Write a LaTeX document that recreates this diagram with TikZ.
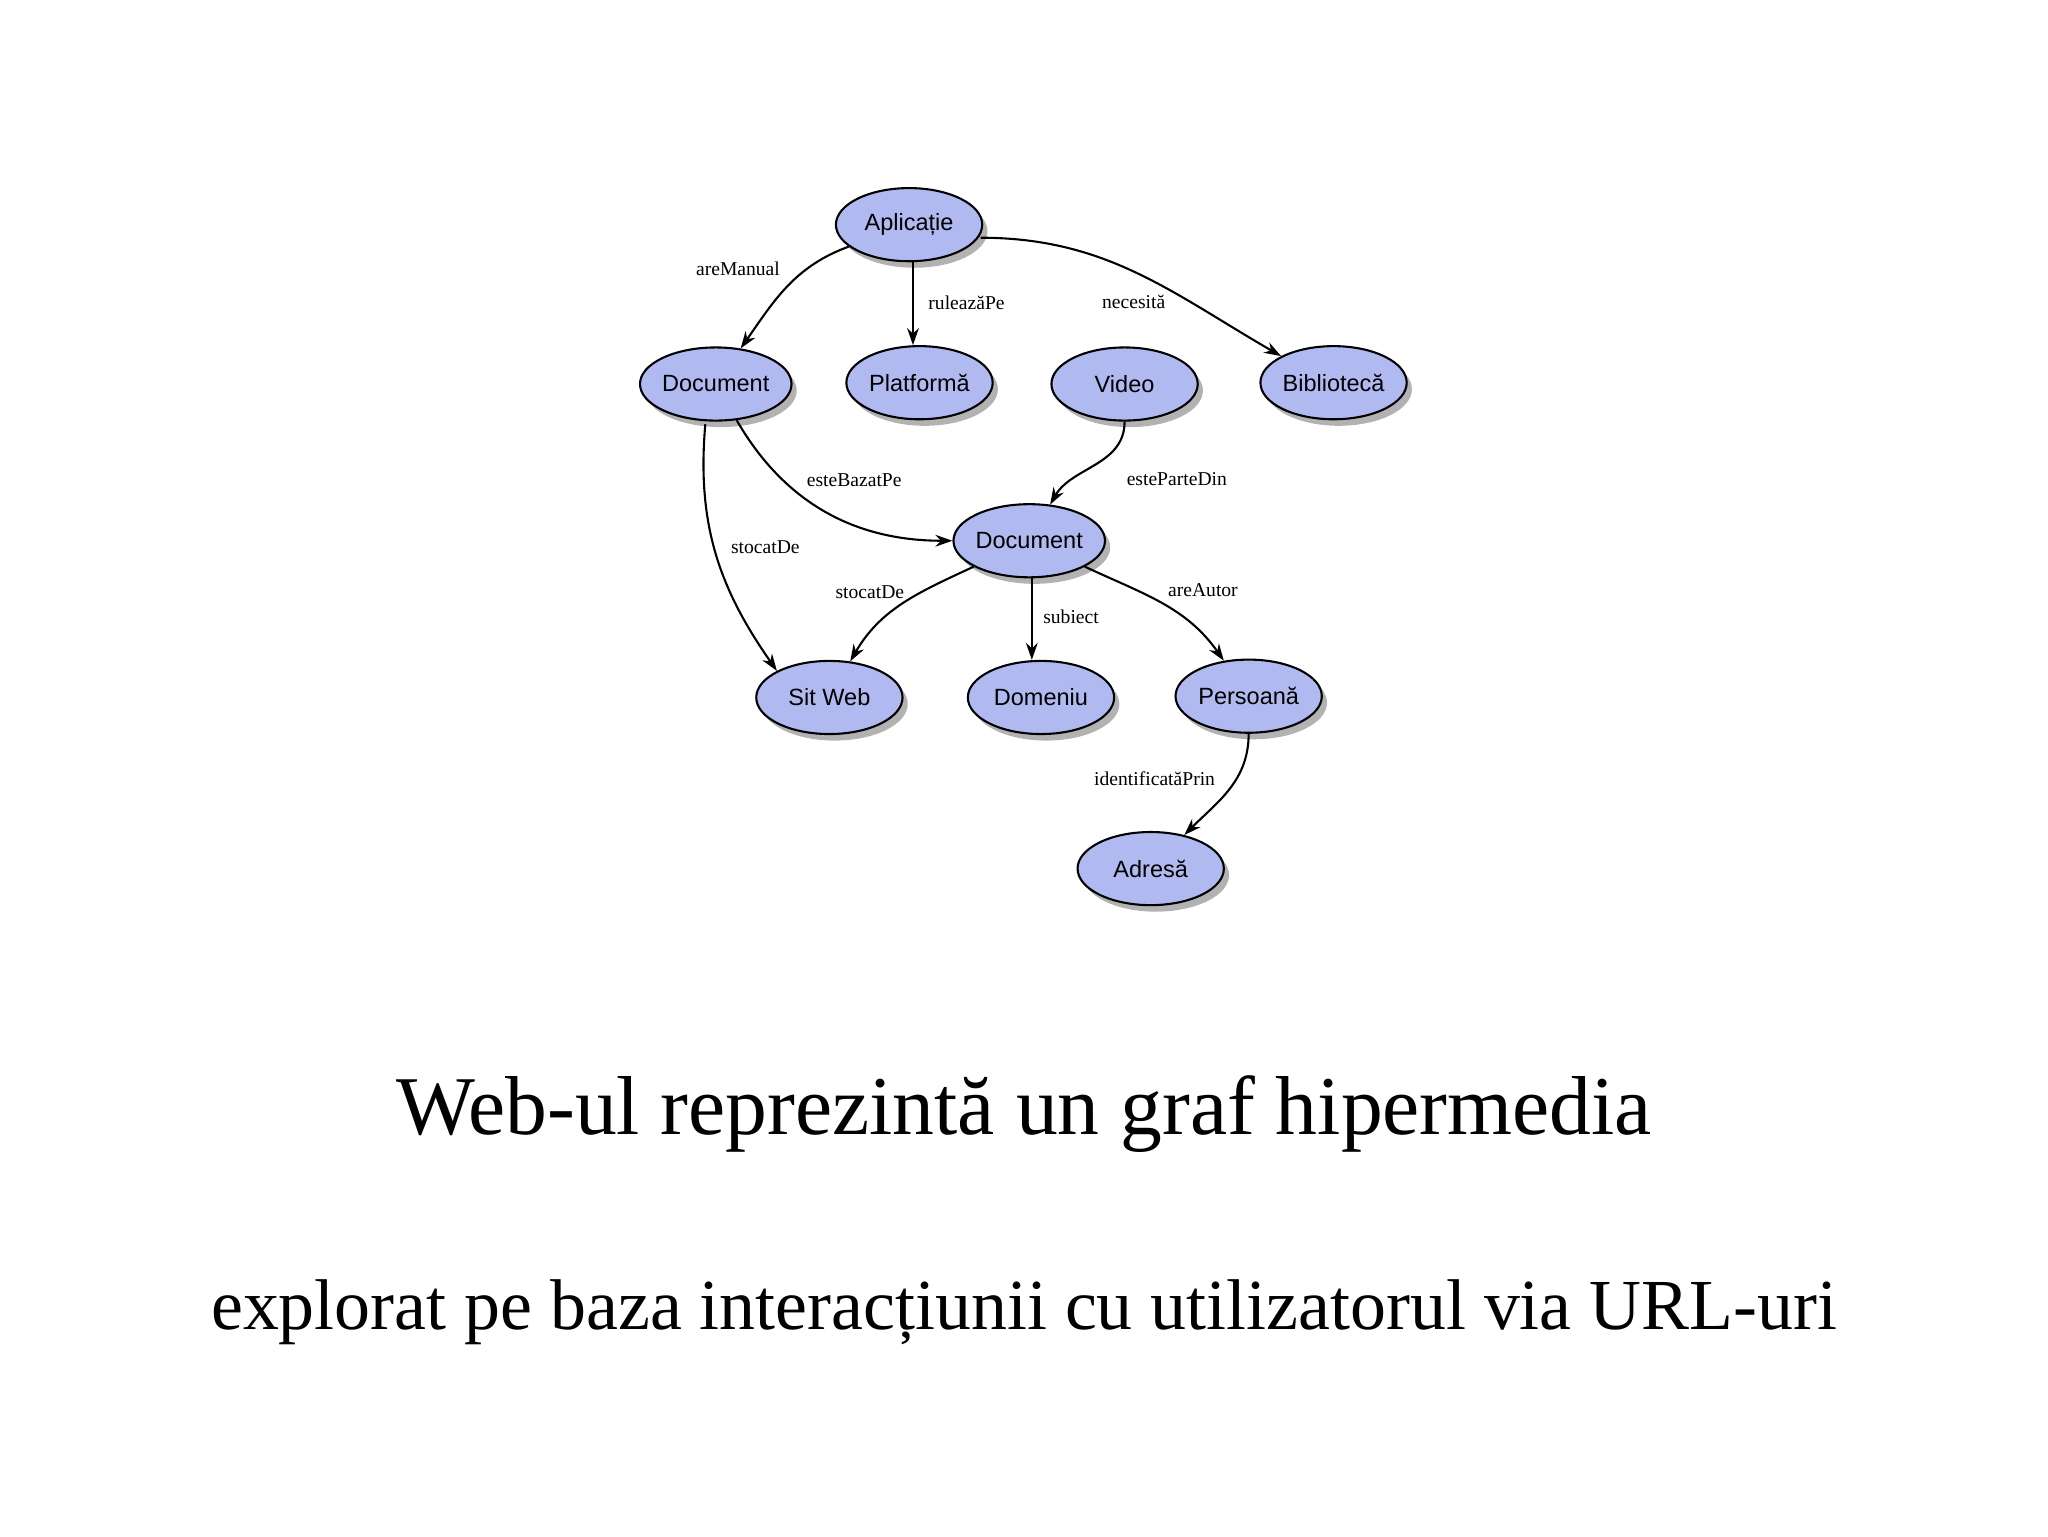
\documentclass[tikz,border=0pt]{standalone}
\usepackage{fontspec}
\setmainfont{Liberation Serif}
\newfontfamily\nodefont{Liberation Sans}
\usetikzlibrary{shapes.geometric,shadows,arrows.meta}
\definecolor{nodeblue}{RGB}{176,186,240}
\tikzset{
  ent/.style={ellipse,draw=black,line width=1.6pt,fill=nodeblue,minimum width=112pt,minimum height=56pt,inner sep=0pt,
    font=\nodefont\fontsize{18}{20}\selectfont,drop shadow={shadow xshift=4pt,shadow yshift=-5pt,fill=black!60}},
  rel/.style={-{Stealth[length=13pt,width=9pt]},line width=1.6pt},
  lbl/.style={font=\fontsize{15}{17}\selectfont}
}
\begin{document}
\begin{tikzpicture}[x=1pt,y=-1pt]
\useasboundingbox (0,0) rectangle (1568,1176);
\node[ent] (ap) at (696,172) {Aplicație};
\node[ent] (d1) at (548,294) {Document};
\node[ent] (pl) at (704,293) {Platformă};
\node[ent] (vi) at (861,294) {Video};
\node[ent] (bi) at (1021,293) {Bibliotecă};
\node[ent] (d2) at (788,414) {Document};
\node[ent] (sw) at (635,534) {Sit Web};
\node[ent] (dm) at (797,534) {Domeniu};
\node[ent] (pe) at (956,533) {Persoană};
\node[ent] (ad) at (881,665) {Adresă};
\draw[rel] (ap) to[out=200,in=55] (d1);
\draw[rel] (ap.south) ++(3,0) coordinate (aps) -- (aps |- pl.north);
\draw[rel] (ap.east) ++(-2,10) coordinate (ape) to[out=0,in=150] (bi.north west);
\draw[rel] (d1) to[out=-60,in=180] (d2);
\draw[rel] (d1.south) ++(-8,2) coordinate (d1s) to[out=-95,in=125] (sw.north west);
\draw[rel] (vi) to[out=-90,in=60] (d2);
\draw[rel] (d2) to[out=205,in=60] (sw);
\draw[rel] (d2.south) ++(2,0) coordinate (d2s) -- (d2s |- dm.north);
\draw[rel] (d2) to[out=-25,in=125] (pe);
\draw[rel] (pe) to[out=-90,in=45] (ad);
\node[lbl] (l1) at (565,206) {areManual};
\node[lbl] (l2) at (740,232) {ruleazăPe};
\node[lbl] (l3) at (868,231) {necesită};
\node[lbl] (l4) at (654,368) {esteBazatPe};
\node[lbl] (l5) at (901,367) {esteParteDin};
\node[lbl] (l6) at (586,419) {stocatDe};
\node[lbl] (l7) at (666,453) {stocatDe};
\node[lbl] (l8) at (820,472) {subiect};
\node[lbl] (l9) at (921,452) {areAutor};
\node[lbl] (l10) at (884,596) {identificatăPrin};
\node[font=\fontsize{64}{70}\selectfont] (t1) at (784,853) {Web-ul reprezintă un graf hipermedia};
\node[font=\fontsize{55}{60}\selectfont] (t2) at (784,1005) {explorat pe baza interacțiunii cu utilizatorul via URL-uri};
\end{tikzpicture}
\end{document}
